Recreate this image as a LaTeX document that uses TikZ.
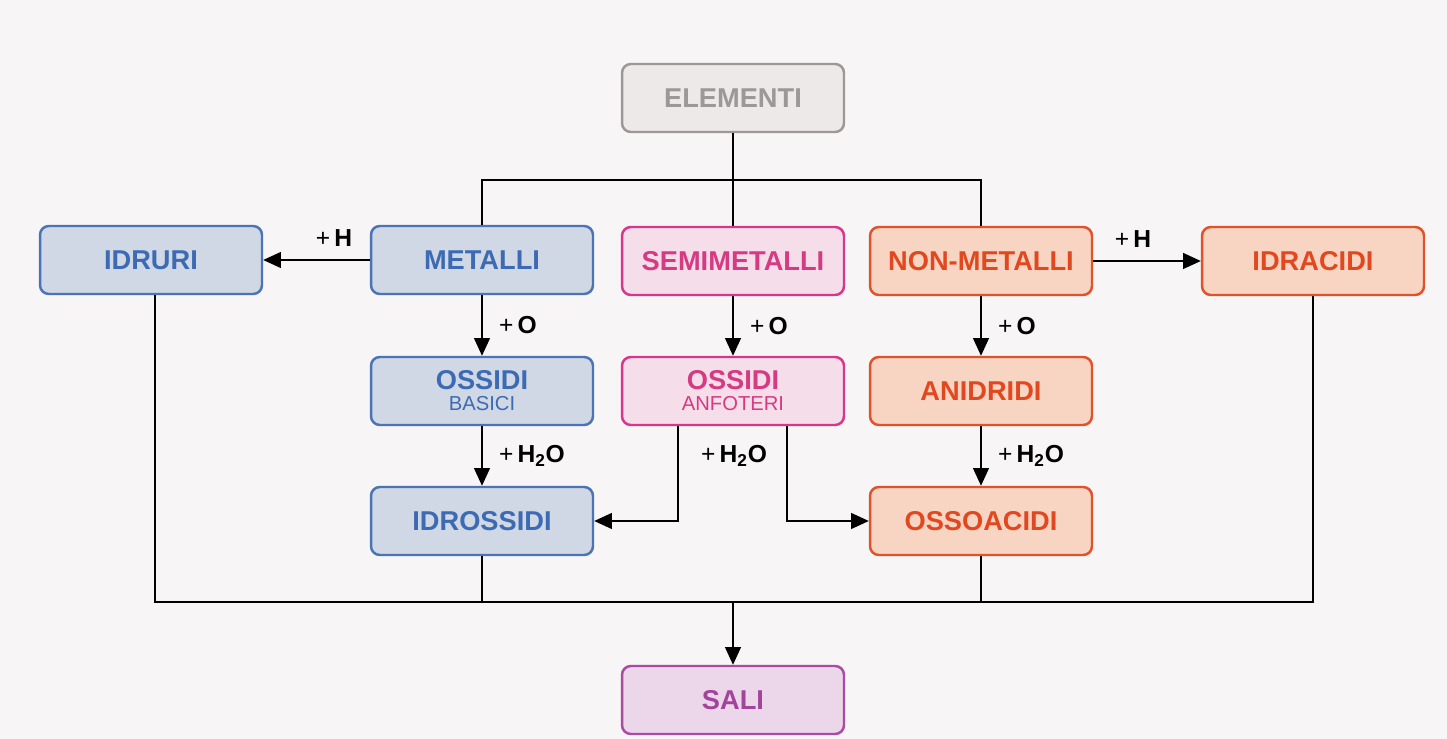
\documentclass[tikz,border=0pt]{standalone}
\usepackage{fontspec}
\setmainfont{Liberation Sans}
\usetikzlibrary{arrows.meta}

\definecolor{pagebg}{HTML}{F7F5F5}
\definecolor{grayline}{HTML}{9C9898}
\definecolor{grayfill}{HTML}{EEE9E9}
\definecolor{blueline}{HTML}{4A74B4}
\definecolor{bluefill}{HTML}{D0D7E5}
\definecolor{bluetext}{HTML}{3D6BB3}
\definecolor{pinkline}{HTML}{D8368C}
\definecolor{pinkfill}{HTML}{F6DDEA}
\definecolor{pinktext}{HTML}{D63A82}
\definecolor{orangeline}{HTML}{E2522A}
\definecolor{orangefill}{HTML}{F8D5C2}
\definecolor{orangetext}{HTML}{E2481F}
\definecolor{violetline}{HTML}{A94BA2}
\definecolor{violetfill}{HTML}{ECD6EA}
\definecolor{violettext}{HTML}{A2439C}

\tikzset{
    box/.style={draw, rounded corners=5pt, line width=1.4pt, minimum width=4.44cm,
        minimum height=1.36cm, align=center, font=\bfseries\fontsize{15.5}{18}\selectfont},
    grigio/.style={box, draw=grayline, fill=grayfill, text=grayline},
    metallo/.style={box, draw=blueline, fill=bluefill, text=bluetext},
    semi/.style={box, draw=pinkline, fill=pinkfill, text=pinktext},
    nonmetallo/.style={box, draw=orangeline, fill=orangefill, text=orangetext},
    sale/.style={box, draw=violetline, fill=violetfill, text=violettext},
    lbl/.style={font=\fontsize{14}{16}\selectfont, text=black},
}

\newcommand{\piu}[1]{{\mdseries +}\,\textbf{#1}}
\newcommand{\piccolo}{\mdseries\fontsize{11.5}{13}\selectfont}

\begin{document}
\begin{tikzpicture}[x=0.02cm, y=-0.02cm, >={Triangle[length=10pt, width=9pt]}, line width=0.75pt]
    \useasboundingbox[fill=pagebg] (0,0) rectangle (1447,739);

    % top
    \node[grigio] (elem) at (733, 98) {ELEMENTI};

    % first row
    \node[metallo] (idruri) at (151, 260) {IDRURI};
    \node[metallo] (metalli) at (482, 260) {METALLI};
    \node[semi] (semimet) at (733, 261) {SEMIMETALLI};
    \node[nonmetallo] (nonmet) at (981, 261) {NON-METALLI};
    \node[nonmetallo] (idracidi) at (1313, 261) {IDRACIDI};

    % second row
    \node[metallo] (ossbas) at (482, 391) {OSSIDI\\[-6pt]{\piccolo BASICI}};
    \node[semi] (ossanf) at (733, 391) {OSSIDI\\[-6pt]{\piccolo ANFOTERI}};
    \node[nonmetallo] (anidridi) at (981, 391) {ANIDRIDI};

    % third row
    \node[metallo] (idross) at (482, 521) {IDROSSIDI};
    \node[nonmetallo] (ossoac) at (981, 521) {OSSOACIDI};

    % bottom
    \node[sale] (sali) at (733, 700) {SALI};

    % from ELEMENTI
    \coordinate (split) at (733, 180);
    \draw (elem.south) -- (split);
    \draw (metalli.north) |- (split) -| (nonmet.north);
    \draw (split) -- (semimet.north);

    % reactions
    \draw[->] (metalli) -- node[lbl, above=4pt, xshift=10pt] {\piu{H}} (idruri);
    \draw[->] (nonmet) -- node[lbl, above=4pt, xshift=-8pt] {\piu{H}} (idracidi);
    \draw[->] (metalli) -- node[lbl, right=6pt] {\piu{O}} (ossbas);
    \draw[->] (semimet) -- node[lbl, right=6pt] {\piu{O}} (ossanf);
    \draw[->] (nonmet) -- node[lbl, right=6pt] {\piu{O}} (anidridi);
    \draw[->] (ossbas) -- node[lbl, right=6pt] {\piu{H\textsubscript{2}O}} (idross);
    \draw[->] (anidridi) -- node[lbl, right=6pt] {\piu{H\textsubscript{2}O}} (ossoac);
    \draw[->] ([xshift=-1.1cm]ossanf.south) |- (idross.east);
    \draw[->] ([xshift=1.08cm]ossanf.south) |- (ossoac.west);
    \node[lbl] (acqua) at (734, 456) {\piu{H\textsubscript{2}O}};

    % to SALI
    \coordinate (join) at (733, 602);
    \draw ([xshift=0.08cm]idruri.south) |- (join) -| (idracidi.south);
    \draw (idross.south) -- (idross.south |- join);
    \draw (ossoac.south) -- (ossoac.south |- join);
    \draw[->] (join) -- (sali.north);
\end{tikzpicture}
\end{document}
